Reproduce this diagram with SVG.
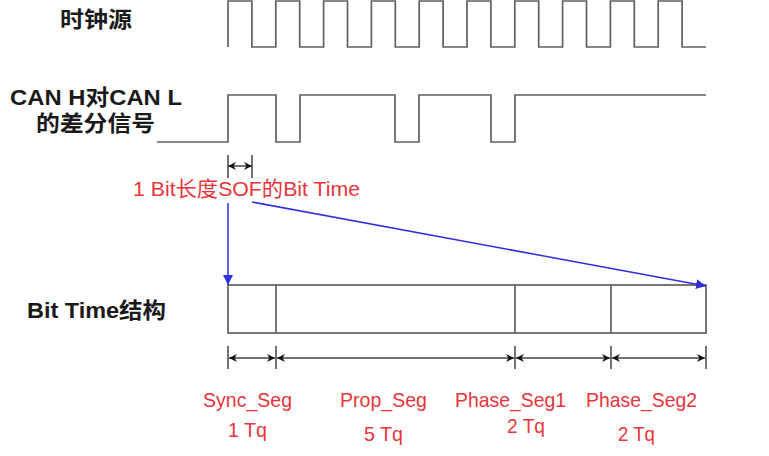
<svg xmlns="http://www.w3.org/2000/svg" width="769" height="456" viewBox="0 0 769 456">
<defs>
<style>
.sig{fill:none;stroke:#606060;stroke-width:1.7;stroke-linejoin:miter}
.box{fill:#fff;stroke:#606060;stroke-width:1.7}
.dim{fill:none;stroke:#444;stroke-width:1.5}
.blue{fill:none;stroke:#2f2fe0;stroke-width:1.5}
.lbl{font-family:"Liberation Sans","Noto Sans CJK SC",sans-serif;font-weight:bold;font-size:22px;fill:#1a1a1a}
.red{font-family:"Liberation Sans","Noto Sans CJK SC",sans-serif;font-size:21px;fill:#e8353b}
</style>
<marker id="ab" viewBox="0 0 10 10" refX="10" refY="5" markerWidth="8" markerHeight="8" markerUnits="userSpaceOnUse" orient="auto-start-reverse">
<path d="M0,0 L10,5 L0,10 L3,5 z" fill="#111"/>
</marker>
<marker id="abl" viewBox="0 0 10 10" refX="10" refY="5" markerWidth="10" markerHeight="10" markerUnits="userSpaceOnUse" orient="auto">
<path d="M0,0 L10,5 L0,10 z" fill="#2f2fe0"/>
</marker>
</defs>
<rect width="769" height="456" fill="#fff"/>

<g id="clock">
<text class="lbl" x="60" y="27" textLength="72" lengthAdjust="spacingAndGlyphs">时钟源</text>
<path class="sig" d="M228,47 V1 H251.9 V47 H275.8 V1 H299.7 V47 H323.6 V1 H347.5 V47 H371.4 V1 H395.3 V47 H419.2 V1 H443.1 V47 H467 V1 H490.9 V47 H514.8 V1 H538.7 V47 H562.6 V1 H586.5 V47 H610.4 V1 H634.3 V47 H658.2 V1 H682.1 V47 H706"/>
</g>

<g id="can-signal">
<text class="lbl" x="10" y="105" textLength="172" lengthAdjust="spacingAndGlyphs">CAN H对CAN L</text>
<text class="lbl" x="36" y="131" textLength="119" lengthAdjust="spacingAndGlyphs">的差分信号</text>
<path class="sig" d="M157,142 H228 V95 H276 V142 H300 V95 H395 V142 H419 V95 H491 V142 H515 V95 H706"/>
</g>

<g id="bit-length">
<path class="dim" d="M228,155 V178 M252,155 V178"/>
<line class="dim" x1="228" y1="166" x2="252" y2="166" marker-start="url(#ab)" marker-end="url(#ab)"/>
<text class="red" x="133" y="195.5" font-size="19" textLength="227" lengthAdjust="spacingAndGlyphs">1 Bit长度SOF的Bit Time</text>
</g>

<g id="bit-time">
<text class="lbl" x="27" y="318" font-size="21" textLength="139" lengthAdjust="spacingAndGlyphs">Bit Time结构</text>
<rect class="box" x="228" y="285" width="478" height="48"/>
<path class="sig" d="M276,285 V333 M515,285 V333 M611,285 V333"/>
</g>

<g id="connectors">
<line class="blue" x1="228" y1="203" x2="228" y2="285" marker-end="url(#abl)"/>
<line class="blue" x1="252" y1="202" x2="706" y2="286" marker-end="url(#abl)"/>
<path class="dim" d="M228,346 V369 M276,346 V369 M515,346 V369 M611,346 V369 M706,346 V369"/>
<line class="dim" x1="229" y1="358" x2="275" y2="358" marker-start="url(#ab)" marker-end="url(#ab)"/>
<line class="dim" x1="277" y1="358" x2="514" y2="358" marker-start="url(#ab)" marker-end="url(#ab)"/>
<line class="dim" x1="516" y1="358" x2="610" y2="358" marker-start="url(#ab)" marker-end="url(#ab)"/>
<line class="dim" x1="612" y1="358" x2="705" y2="358" marker-start="url(#ab)" marker-end="url(#ab)"/>
</g>

<g id="seg-labels">
<text class="red" x="203" y="407" textLength="89" lengthAdjust="spacingAndGlyphs">Sync_Seg</text>
<text class="red" x="340" y="407" textLength="87" lengthAdjust="spacingAndGlyphs">Prop_Seg</text>
<text class="red" x="455" y="407" textLength="111" lengthAdjust="spacingAndGlyphs">Phase_Seg1</text>
<text class="red" x="586" y="407" textLength="111" lengthAdjust="spacingAndGlyphs">Phase_Seg2</text>
<text class="red" x="228" y="437" textLength="39" lengthAdjust="spacingAndGlyphs">1 Tq</text>
<text class="red" x="364" y="441" textLength="39" lengthAdjust="spacingAndGlyphs">5 Tq</text>
<text class="red" x="507" y="433" textLength="38" lengthAdjust="spacingAndGlyphs">2 Tq</text>
<text class="red" x="618" y="441" textLength="37" lengthAdjust="spacingAndGlyphs">2 Tq</text>
</g>
</svg>
